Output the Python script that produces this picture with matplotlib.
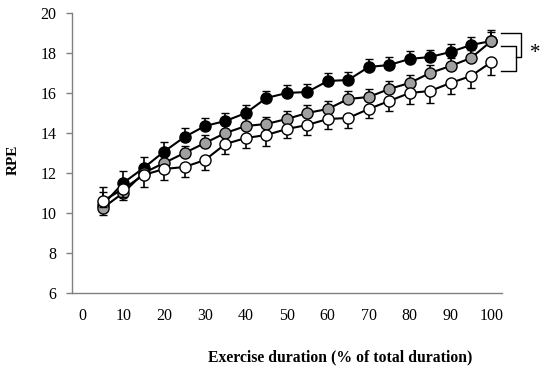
import matplotlib
matplotlib.use("Agg")
import matplotlib.pyplot as plt
import numpy as np

duration = [5, 10, 15, 20, 25, 30, 35, 40, 45, 50, 55, 60, 65, 70, 75, 80, 85, 90, 95, 100]
rpe_black = [10.4, 11.5, 12.25, 13.07, 13.8, 14.35, 14.6, 15.0, 15.75, 16.0, 16.05, 16.6, 16.65, 17.3, 17.4, 17.7, 17.8, 18.05, 18.4, 18.6]
rpe_gray = [10.25, 11.0, 12.0, 12.5, 13.0, 13.5, 14.0, 14.35, 14.45, 14.7, 15.0, 15.2, 15.7, 15.8, 16.2, 16.5, 17.0, 17.35, 17.75, 18.6]
rpe_white = [10.6, 11.2, 11.9, 12.2, 12.3, 12.65, 13.45, 13.75, 13.9, 14.2, 14.4, 14.7, 14.75, 15.2, 15.6, 16.0, 16.1, 16.5, 16.85, 17.55]
err_black_up = [0.9, 0.6, 0.55, 0.5, 0.45, 0.4, 0.4, 0.4, 0.35, 0.4, 0.4, 0.4, 0.4, 0.4, 0.4, 0.4, 0.35, 0.4, 0.4, 0.55]
err_gray_up = [0.8, 0.3, 0.3, 0.35, 0.35, 0.4, 0.4, 0.4, 0.37, 0.4, 0.4, 0.4, 0.4, 0.4, 0.4, 0.4, 0.4, 0.4, 0.4, 0.45]
err_gray_lo = [0.35, 0.35, 0, 0, 0, 0, 0, 0, 0, 0, 0, 0, 0, 0, 0, 0, 0, 0, 0, 0]
err_white_lo = [0.3, 0.4, 0.6, 0.55, 0.5, 0.48, 0.5, 0.5, 0.55, 0.45, 0.5, 0.5, 0.5, 0.45, 0.5, 0.55, 0.6, 0.55, 0.6, 0.65]

yticks = [6, 8, 10, 12, 14, 16, 18, 20]
xticks = [0, 10, 20, 30, 40, 50, 60, 70, 80, 90, 100]

plt.rcParams['font.family'] = ['Liberation Serif', 'DejaVu Serif']

fig = plt.figure(figsize=(5.5, 3.74), dpi=100)
ax = fig.add_axes([0.1309, 0.2166, 0.7813, 0.7487])

zeros = [0] * len(duration)
common = dict(color='black', lw=1.5, marker='o', markersize=8, markeredgecolor='black',
              markeredgewidth=1.0, ecolor='black', elinewidth=1.2, capsize=3.2, capthick=1.2)
ax.errorbar(duration, rpe_black, yerr=[zeros, err_black_up], markerfacecolor='black', zorder=3, **common)
ax.errorbar(duration, rpe_gray, yerr=[err_gray_lo, err_gray_up], markerfacecolor='#a0a0a0', zorder=4, **common)
ax.errorbar(duration, rpe_white, yerr=[err_white_lo, zeros], markerfacecolor='white', zorder=5, **common)

ax.set_xlim(-2.5, 102.5)
ax.set_ylim(6, 20)
ax.set_xticks(xticks)
ax.set_yticks(yticks)
ax.spines['top'].set_visible(False)
ax.spines['right'].set_visible(False)
for s in ['left', 'bottom']:
    ax.spines[s].set_color('#808080')
    ax.spines[s].set_linewidth(1.0)
ax.tick_params(axis='x', length=0, pad=11, labelsize=11.5)
ax.tick_params(axis='y', length=4, width=1.0, color='#808080', pad=7, labelsize=11.5)

# significance brackets
bk = dict(color='black', lw=1.0, clip_on=False)
ax.plot([102.3, 107.2, 107.2, 106.1], [18.99, 18.99, 17.79, 17.79], **bk)
ax.plot([102.3, 106.1, 106.1, 102.3], [18.37, 18.37, 17.1, 17.1], **bk)
ax.text(110.6, 17.95, '*', ha='center', va='center', fontsize=15, clip_on=False)

fig.text(0.024, 0.572, 'RPE', rotation=90, ha='center', va='center', fontsize=11, fontweight='bold')
fig.text(0.618, 0.045, 'Exercise duration (% of total duration)', ha='center', va='center',
         fontsize=11.3, fontweight='bold')

fig.savefig('out.png', dpi=100)
